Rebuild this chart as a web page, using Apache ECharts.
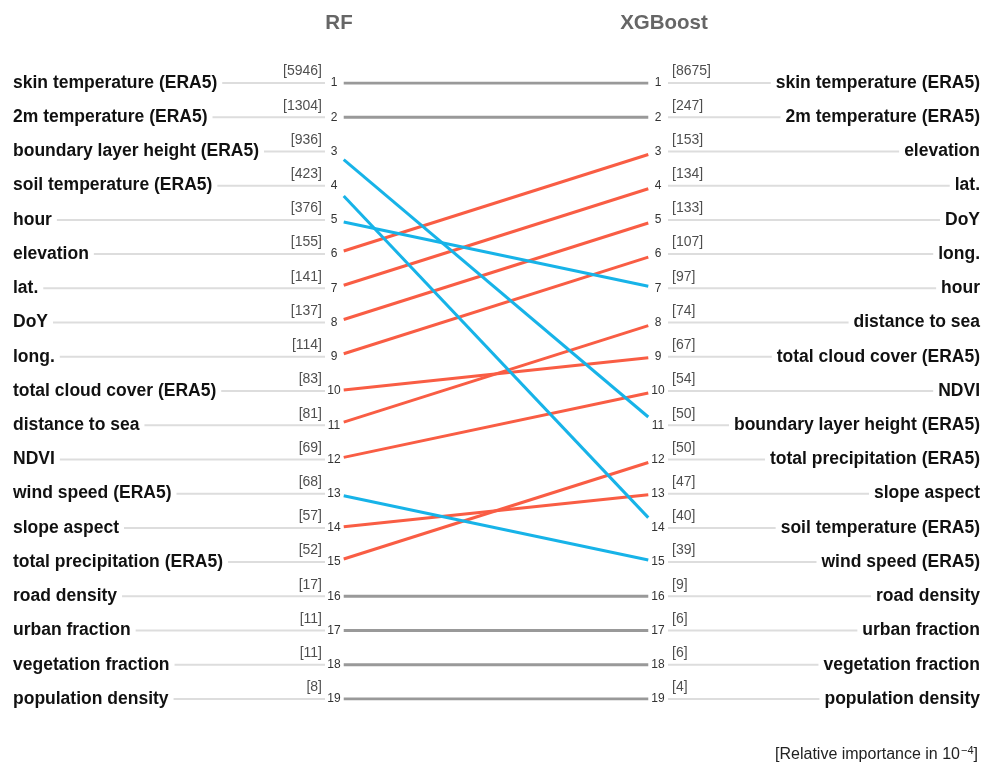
<!DOCTYPE html>
<html>
<head>
<meta charset="utf-8">
<style>
  html, body { margin: 0; padding: 0; background: #fff; }
  #chart { width: 985px; height: 765px; }
</style>
<script src="https://cdn.jsdelivr.net/npm/echarts@6/dist/echarts.min.js"></script>
</head>
<body>
<div id="chart"></div>
<script>
// Feature importance ranking, Random Forest (left column, rank order)
const rfFeatures = [
  'skin temperature (ERA5)', '2m temperature (ERA5)', 'boundary layer height (ERA5)',
  'soil temperature (ERA5)', 'hour', 'elevation', 'lat.', 'DoY', 'long.',
  'total cloud cover (ERA5)', 'distance to sea', 'NDVI', 'wind speed (ERA5)',
  'slope aspect', 'total precipitation (ERA5)', 'road density', 'urban fraction',
  'vegetation fraction', 'population density'
];
const rfValues = [5946, 1304, 936, 423, 376, 155, 141, 137, 114, 83, 81, 69, 68, 57, 52, 17, 11, 11, 8];

// Feature importance ranking, XGBoost (right column, rank order)
const xgbFeatures = [
  'skin temperature (ERA5)', '2m temperature (ERA5)', 'elevation', 'lat.', 'DoY',
  'long.', 'hour', 'distance to sea', 'total cloud cover (ERA5)', 'NDVI',
  'boundary layer height (ERA5)', 'total precipitation (ERA5)', 'slope aspect',
  'soil temperature (ERA5)', 'wind speed (ERA5)', 'road density', 'urban fraction',
  'vegetation fraction', 'population density'
];
const xgbValues = [8675, 247, 153, 134, 133, 107, 97, 74, 67, 54, 50, 50, 47, 40, 39, 9, 6, 6, 4];

const modelTitles = ['RF', 'XGBoost'];
const unitNote = ['[Relative importance in 10', '\u22124', ']'];

const rankCats = rfFeatures.map((_, i) => String(i + 1));

const FONT = '"Liberation Sans", Arial, Helvetica, sans-serif';
const COLOR_UP = '#f95d44';
const COLOR_DOWN = '#17b3e8';
const COLOR_SAME = '#999999';
const CONNECT = '#dddddd';

// Slope segments stop a little short of the rank numbers on both ends
const GAP = 0.03;

const groups = { same: [], up: [], down: [] };
rfFeatures.forEach((name, i) => {
  const rL = i + 1;
  const rR = xgbFeatures.indexOf(name) + 1;
  const kind = rR === rL ? 'same' : (rR < rL ? 'up' : 'down');
  const color = kind === 'same' ? COLOR_SAME : (kind === 'up' ? COLOR_UP : COLOR_DOWN);
  const yAt = t => rL + (rR - rL) * t;
  groups[kind].push({
    type: 'line',
    name: name,
    xAxisIndex: 1,
    yAxisIndex: 1,
    data: [[GAP, yAt(GAP)], [1 - GAP, yAt(1 - GAP)]],
    symbol: 'none',
    silent: true,
    lineStyle: { color: color, width: 3 }
  });
});
const slopeSeries = [...groups.same, ...groups.up, ...groups.down];

const nameLabel = {
  fontFamily: FONT, fontSize: 17.5, fontWeight: 'bold', color: '#111',
  backgroundColor: '#fff'
};
const valueLabel = { fontFamily: FONT, fontSize: 14, color: '#222' };
const rankLabel = { align: 'center', margin: 0, fontFamily: FONT, fontSize: 12, color: '#333' };
const titleStyle = { fontFamily: FONT, fontSize: 20.5, fontWeight: 'bold', color: '#666' };

const option = {
  backgroundColor: '#fff',
  animation: false,
  title: [
    { text: modelTitles[0], left: 334, top: 8, textAlign: 'center', textStyle: titleStyle },
    { text: modelTitles[1], left: 659, top: 8, textAlign: 'center', textStyle: titleStyle },
    { text: '{a|' + unitNote[0] + '}{s|' + unitNote[1] + '}{a|' + unitNote[2] + '}',
      right: 2, top: 740,
      textStyle: {
        fontWeight: 'normal',
        rich: {
          a: { fontFamily: FONT, fontSize: 16, fontWeight: 'normal', color: '#222' },
          s: { fontFamily: FONT, fontSize: 11, fontWeight: 'normal', color: '#222', padding: [0, 0, 9, 1] }
        }
      } }
  ],
  grid: [
    { left: 13, width: 312, top: 83, bottom: 66 },   // left names
    { left: 334, right: 327, top: 83, bottom: 66 },  // slopes + rank numbers
    { left: 668, right: 5, top: 83, bottom: 66 }     // right names
  ],
  xAxis: [
    { gridIndex: 0, type: 'value', min: 0, max: 1, show: false },
    { gridIndex: 1, type: 'value', min: 0, max: 1, show: false },
    { gridIndex: 2, type: 'value', min: 0, max: 1, show: false }
  ],
  yAxis: [
    { gridIndex: 0, type: 'category', data: rankCats, inverse: true, boundaryGap: false, show: false },
    { gridIndex: 1, type: 'value', min: 1, max: 19, interval: 1, inverse: true, position: 'left',
      axisLine: { show: false }, axisTick: { show: false }, splitLine: { show: false },
      axisLabel: rankLabel },
    { gridIndex: 2, type: 'category', data: rankCats, inverse: true, boundaryGap: false, show: false },
    { gridIndex: 1, type: 'value', min: 1, max: 19, interval: 1, inverse: true, position: 'right',
      axisLine: { show: false }, axisTick: { show: false }, splitLine: { show: false },
      axisLabel: rankLabel }
  ],
  series: [
    // left connectors with feature names
    {
      type: 'bar', xAxisIndex: 0, yAxisIndex: 0, barWidth: 2, silent: true,
      itemStyle: { color: CONNECT },
      data: rfFeatures.map(() => 1),
      label: {
        show: true, position: 'insideLeft', distance: 0,
        padding: [2, 5, 2, 0],
        formatter: p => rfFeatures[p.dataIndex],
        ...nameLabel
      }
    },
    // left importance values
    {
      type: 'scatter', xAxisIndex: 0, yAxisIndex: 0, symbolSize: 1, silent: true,
      itemStyle: { color: 'rgba(0,0,0,0)' },
      data: rfValues.map((v, i) => [1, i]),
      label: {
        show: true, position: 'top', distance: 4, align: 'right', offset: [-3, 0],
        formatter: p => '[' + rfValues[p.dataIndex] + ']',
        ...valueLabel
      }
    },
    // right connectors with feature names
    {
      type: 'bar', xAxisIndex: 2, yAxisIndex: 2, barWidth: 2, silent: true,
      itemStyle: { color: CONNECT },
      data: xgbFeatures.map(() => 1),
      label: {
        show: true, position: 'insideRight', distance: 0,
        padding: [2, 0, 2, 5],
        formatter: p => xgbFeatures[p.dataIndex],
        ...nameLabel
      }
    },
    // right importance values
    {
      type: 'scatter', xAxisIndex: 2, yAxisIndex: 2, symbolSize: 1, silent: true,
      itemStyle: { color: 'rgba(0,0,0,0)' },
      data: xgbValues.map((v, i) => [0, i]),
      label: {
        show: true, position: 'top', distance: 4, align: 'left', offset: [4, 0],
        formatter: p => '[' + xgbValues[p.dataIndex] + ']',
        ...valueLabel
      }
    },
    ...slopeSeries
  ]
};

const chart = echarts.init(document.getElementById('chart'), null, { renderer: 'canvas' });
chart.setOption(option);
</script>
</body>
</html>
